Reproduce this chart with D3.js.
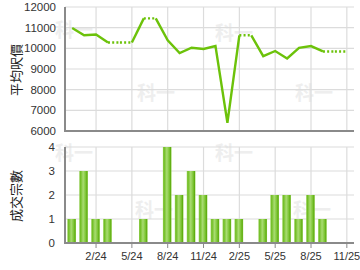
<!DOCTYPE html>
<html><head><meta charset="utf-8">
<script src="https://cdn.jsdelivr.net/npm/d3@7"></script>
<style>
html,body{margin:0;padding:0;background:#fff;}
svg{display:block;font-family:"Liberation Sans",Arial,sans-serif;}
</style></head>
<body>
<svg id="c" width="360" height="270"></svg>
<script>
const months = ["12/23","1/24","2/24","3/24","4/24","5/24","6/24","7/24","8/24","9/24","10/24","11/24","12/24","1/25","2/25","3/25","4/25","5/25","6/25","7/25","8/25","9/25","10/25","11/25"];
const avgPrice = [10980,10630,10670,10280,null,null,11450,null,10390,9770,10030,9970,10110,6400,10630,null,9620,9870,9510,10020,10110,9850,null,null];
const deals = [1,3,1,1,0,0,1,0,4,2,3,2,1,1,1,0,1,2,2,1,2,1,0,0];
const tickLabels = ["2/24","5/24","8/24","11/24","2/25","5/25","8/25","11/25"];
const priceTicks = [6000,7000,8000,9000,10000,11000,12000];
const dealTicks = [0,1,2,3,4];
const title1 = "平均呎價";
const title2 = "成交宗數";
const watermark = "科一";

const svg = d3.select("#c");
const x = d3.scaleLinear().domain([-0.6, 23.6]).range([65, 354]);
const y1 = d3.scaleLinear().domain([6000, 12000]).range([131, 7]);
const y2 = d3.scaleLinear().domain([0, 4]).range([243, 147]);
const tickIdx = tickLabels.map(t => months.indexOf(t));

const defs = svg.append("defs");
const grad = defs.append("linearGradient").attr("id","barg").attr("x1","0").attr("x2","1").attr("y1","0").attr("y2","0");
[[0,"#8fcd4c"],[0.15,"#72be25"],[0.45,"#a9dc72"],[0.75,"#7cc433"],[0.9,"#5ead10"],[1,"#8fcd4c"]].forEach(([o,c])=>grad.append("stop").attr("offset",o).attr("stop-color",c));

const wm = [[55,37],[137,100],[215,40],[295,100],[55,160],[135,217],[215,160],[293,217]];
svg.append("g").selectAll("text").data(wm).join("text")
  .attr("x",d=>d[0]).attr("y",d=>d[1]).text(watermark)
  .attr("font-size",19).attr("font-weight","bold").attr("fill","#eeeeee")
  .attr("font-family","'Noto Sans CJK TC',sans-serif");

const topG = svg.append("g");
topG.append("g").selectAll("line").data(priceTicks).join("line")
  .attr("x1",65).attr("x2",354).attr("y1",d=>y1(d)).attr("y2",d=>y1(d))
  .attr("stroke","#dcdcdc").attr("stroke-width",1.2);
topG.append("g").selectAll("line").data(tickIdx).join("line")
  .attr("x1",d=>x(d)).attr("x2",d=>x(d)).attr("y1",7).attr("y2",131)
  .attr("stroke","#dcdcdc").attr("stroke-width",1.2);
topG.append("line").attr("x1",65).attr("x2",65).attr("y1",7).attr("y2",131).attr("stroke","#8a8a8a").attr("stroke-width",2);
topG.append("line").attr("x1",64).attr("x2",354).attr("y1",131).attr("y2",131).attr("stroke","#8a8a8a").attr("stroke-width",2);
topG.append("g").selectAll("text").data(priceTicks).join("text")
  .attr("x",56).attr("y",d=>y1(d)+4).attr("text-anchor","end")
  .attr("font-size",11.5).attr("fill","#333").text(d=>d);

const held = [];
let last = null;
avgPrice.forEach((v,i)=>{ if(v!=null) last=v; held.push({i, v:last, missing: v==null}); });
const segs = [];
for(let i=0;i<held.length-1;i++){
  segs.push({a:held[i], b:held[i+1], dotted: held[i+1].missing});
}
const lg = topG.append("g");
segs.filter(s=>s.dotted).forEach(s=>{
  lg.append("line").attr("x1",x(s.a.i)).attr("y1",y1(s.a.v)).attr("x2",x(s.b.i)).attr("y2",y1(s.b.v))
    .attr("stroke","#6cc20a").attr("stroke-width",2.4)
    .attr("stroke-dasharray","2,2.2");
});
const solidRuns = [];
let run = [];
segs.forEach(s=>{
  if(!s.dotted){ if(run.length===0) run.push(s.a); run.push(s.b); }
  else { if(run.length) solidRuns.push(run); run=[]; }
});
if(run.length) solidRuns.push(run);
const line = d3.line().x(d=>x(d.i)).y(d=>y1(d.v));
lg.selectAll("path").data(solidRuns).join("path").attr("d",line)
  .attr("fill","none").attr("stroke","#6cc20a").attr("stroke-width",2.4).attr("stroke-linejoin","miter");

svg.append("text").attr("transform","translate(20.5,70) rotate(-90)").attr("text-anchor","middle")
  .attr("font-size",13).attr("fill","#222").attr("font-family","'Noto Sans CJK TC',sans-serif").text(title1);
svg.append("text").attr("transform","translate(20.5,196) rotate(-90)").attr("text-anchor","middle")
  .attr("font-size",13).attr("fill","#222").attr("font-family","'Noto Sans CJK TC',sans-serif").text(title2);

const bot = svg.append("g");
bot.append("g").selectAll("line").data(dealTicks.slice(1)).join("line")
  .attr("x1",65).attr("x2",354).attr("y1",d=>y2(d)).attr("y2",d=>y2(d))
  .attr("stroke","#dcdcdc").attr("stroke-width",1.2);
bot.append("g").selectAll("line").data(tickIdx).join("line")
  .attr("x1",d=>x(d)).attr("x2",d=>x(d)).attr("y1",147).attr("y2",243)
  .attr("stroke","#dcdcdc").attr("stroke-width",1.2);
bot.append("g").selectAll("rect").data(deals.map((v,i)=>({v,i})).filter(d=>d.v>0)).join("rect")
  .attr("x",d=>x(d.i)-4.8).attr("width",8.6)
  .attr("y",d=>y2(d.v)).attr("height",d=>y2(0)-y2(d.v))
  .attr("fill","url(#barg)");
bot.append("line").attr("x1",65).attr("x2",65).attr("y1",147).attr("y2",243).attr("stroke","#8a8a8a").attr("stroke-width",2);
bot.append("line").attr("x1",64).attr("x2",354).attr("y1",243).attr("y2",243).attr("stroke","#8a8a8a").attr("stroke-width",2);
bot.append("g").selectAll("line").data(tickIdx).join("line")
  .attr("x1",d=>x(d)).attr("x2",d=>x(d)).attr("y1",243).attr("y2",248)
  .attr("stroke","#8a8a8a").attr("stroke-width",1);
bot.append("g").selectAll("text").data(dealTicks).join("text")
  .attr("x",55).attr("y",d=>y2(d)+4).attr("text-anchor","end")
  .attr("font-size",11.5).attr("fill","#333").text(d=>d);
bot.append("g").selectAll("text").data(tickLabels).join("text")
  .attr("x",t=>x(months.indexOf(t))).attr("y",260).attr("text-anchor","middle")
  .attr("font-size",11).attr("fill","#333").text(t=>t);
</script>
</body></html>
